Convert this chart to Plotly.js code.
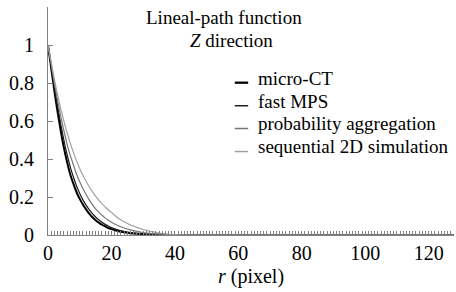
<!DOCTYPE html>
<html>
<head>
<meta charset="utf-8">
<script src="https://cdn.plot.ly/plotly-3.0.1.min.js"></script>
<style>body{margin:0;padding:0;background:#fff}</style>
</head>
<body>
<div id="chart" style="width:456px;height:292px"></div>
<script>
// r (pixel) sample positions
const r = [0,1,2,3,4,5,6,7,8,9,10,11,12,13,14,15,16,17,18,19,20,22,24,26,28,30,33,36,40,45,50,60,80,100,128];

const microCT   = [1,0.88,0.76,0.65,0.55,0.46,0.385,0.32,0.27,0.225,0.19,0.16,0.135,0.112,0.093,0.078,0.065,0.054,0.045,0.037,0.031,0.021,0.014,0.009,0.006,0.004,0.002,0.001,0,0,0,0,0,0,0];
const fastMPS   = [1,0.89,0.78,0.68,0.585,0.5,0.425,0.36,0.305,0.258,0.218,0.185,0.157,0.133,0.112,0.095,0.08,0.067,0.056,0.047,0.039,0.027,0.019,0.013,0.009,0.006,0.003,0.001,0,0,0,0,0,0,0];
const probAgg   = [1,0.9,0.8,0.71,0.625,0.55,0.48,0.42,0.37,0.32,0.28,0.245,0.213,0.185,0.16,0.138,0.12,0.104,0.09,0.078,0.067,0.05,0.037,0.027,0.019,0.013,0.008,0.004,0.001,0,0,0,0,0,0];
const seq2D     = [1,0.91,0.82,0.74,0.665,0.6,0.54,0.485,0.435,0.39,0.35,0.315,0.283,0.254,0.228,0.205,0.184,0.165,0.148,0.133,0.119,0.09,0.07,0.053,0.04,0.029,0.017,0.008,0.002,0,0,0,0,0,0];

const seriesNames = ["micro-CT","fast MPS","probability aggregation","sequential 2D simulation"];
const yTickVals = [0,0.2,0.4,0.6,0.8,1,1.2];
const yTickText = ["0","0.2","0.4","0.6","0.8","1",""];
const xTickVals = [0,20,40,60,80,100,120];
const xTickText = ["0","20","40","60","80","100","120"];

const SERIF = "serif";
const lineStyles = [
  {color:"#000000", width:2},
  {color:"#1a1a1a", width:1.2},
  {color:"#777777", width:1.2},
  {color:"#a0a0a0", width:1.2}
];
const seriesValues = [microCT, fastMPS, probAgg, seq2D];
const plotTraces = seriesValues.map((y,i)=>({
  x: r, y: y, type:"scatter", mode:"lines", name: seriesNames[i], showlegend:false,
  line: {color: lineStyles[i].color, width: lineStyles[i].width, shape:"spline", smoothing:0.6}
}));

// legend drawn as key line + text in paper coordinates
const legX0 = 0.46, legX1 = 0.493, legTextX = 0.512;
const legY = [0.688, 0.587, 0.487, 0.386];
const annos = [
  {xref:"paper", yref:"paper", x:0.434, y:1.0, yanchor:"middle", xanchor:"center", yshift:-10,
   text:"Lineal-path function", showarrow:false, font:{family:SERIF, size:19, color:"#000"}},
  {xref:"paper", yref:"paper", x:0.453, y:1.0, yanchor:"middle", xanchor:"center", yshift:-33,
   text:"<i>Z</i> direction", showarrow:false, font:{family:SERIF, size:19, color:"#000"}}
];
const legShapes = [];
seriesNames.forEach((n,i)=>{
  annos.push({xref:"paper", yref:"paper", x:legTextX, y:legY[i], xanchor:"left", yanchor:"middle",
    text:n, showarrow:false, font:{family:SERIF, size:19, color:"#000"}});
  legShapes.push({type:"line", xref:"paper", yref:"paper", x0:legX0, x1:legX1, y0:legY[i]-0.02, y1:legY[i]-0.02,
    line:{color:lineStyles[i].color, width:lineStyles[i].width+0.3}});
});

const plotLayout = {
  width:456, height:292,
  margin:{l:48, r:2, t:7, b:57},
  paper_bgcolor:"#fff", plot_bgcolor:"#fff",
  font:{family:SERIF, size:19, color:"#000"},
  showlegend:false,
  xaxis:{range:[0,128], showgrid:false, zeroline:false, showline:true, linecolor:"#808080", linewidth:1,
         ticks:"inside", ticklen:4, tickcolor:"#808080",
         tickvals:xTickVals, ticktext:xTickText, tickfont:{family:SERIF, size:20, color:"#000"},
         minor:{dtick:1, ticks:"inside", ticklen:4, tickcolor:"#808080"},
         title:{text:"<i>r</i> (pixel)", font:{family:SERIF, size:20, color:"#000"}, standoff:5}},
  yaxis:{range:[0,1.2], showgrid:false, zeroline:false, showline:true, linecolor:"#808080", linewidth:1,
         ticks:"inside", ticklen:5, tickcolor:"#808080",
         tickvals:yTickVals, ticktext:yTickText, tickfont:{family:SERIF, size:20, color:"#000"},
         ticklabelstandoff:9},
  annotations:annos,
  shapes:legShapes
};
Plotly.newPlot("chart", plotTraces, plotLayout, {displayModeBar:false, staticPlot:true});
</script>
</body>
</html>
